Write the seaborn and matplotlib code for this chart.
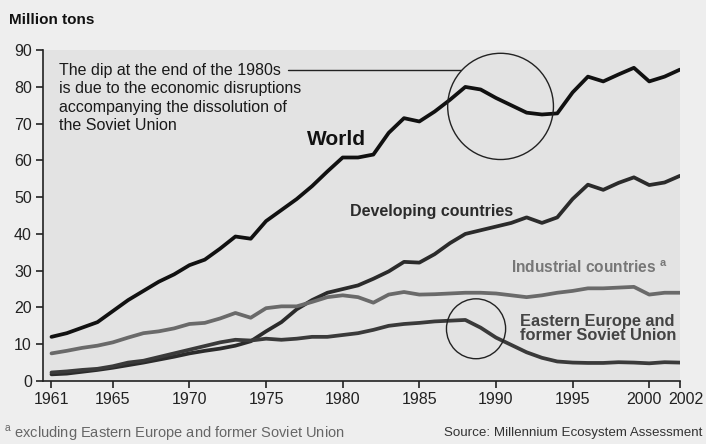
import matplotlib
matplotlib.use("Agg")
import matplotlib.pyplot as plt
from matplotlib.patches import Ellipse
from matplotlib.transforms import ScaledTranslation
import numpy as np
import pandas as pd
import seaborn as sns

years = list(range(1961, 2003))

world = [12.0, 13.0, 14.5, 16.0, 19.0, 22.0, 24.5, 27.0, 29.0, 31.5,
         33.0, 36.0, 39.3, 38.7, 43.5, 46.5, 49.5, 53.0, 57.0, 60.8,
         60.8, 61.6, 67.5, 71.5, 70.6, 73.3, 76.5, 80.0, 79.3, 77.0,
         75.0, 73.0, 72.5, 72.8, 78.5, 82.8, 81.5, 83.4, 85.2, 81.5,
         82.8, 84.7]

developing = [1.8, 2.0, 2.5, 3.0, 3.6, 4.3, 5.0, 5.8, 6.6, 7.5,
              8.2, 8.8, 9.6, 10.8, 13.5, 16.0, 19.5, 22.0, 24.0, 25.0,
              26.0, 27.8, 29.8, 32.4, 32.2, 34.5, 37.5, 40.0, 41.0, 42.0,
              43.0, 44.5, 43.0, 44.5, 49.5, 53.4, 52.0, 53.9, 55.4, 53.3,
              54.0, 55.8]

industrial = [7.5, 8.2, 9.0, 9.6, 10.5, 11.8, 13.0, 13.5, 14.3, 15.5,
              15.8, 17.0, 18.5, 17.2, 19.8, 20.3, 20.3, 21.5, 22.8, 23.3,
              22.8, 21.3, 23.5, 24.2, 23.5, 23.6, 23.8, 24.0, 24.0, 23.8,
              23.3, 22.8, 23.3, 24.0, 24.5, 25.2, 25.2, 25.4, 25.6, 23.5,
              24.0, 24.0]

eastern_europe = [2.3, 2.6, 3.0, 3.3, 4.0, 5.0, 5.5, 6.5, 7.5, 8.5,
                  9.5, 10.5, 11.2, 11.0, 11.5, 11.2, 11.5, 12.0, 12.0, 12.5,
                  13.0, 13.9, 15.0, 15.5, 15.8, 16.2, 16.4, 16.6, 14.5, 11.8,
                  9.8, 7.8, 6.3, 5.3, 5.0, 4.9, 4.9, 5.1, 5.0, 4.8,
                  5.1, 5.0]

series_names = ["World", "Developing countries", "Industrial countries",
                "Eastern Europe and former Soviet Union"]
x_ticks = [1961, 1965, 1970, 1975, 1980, 1985, 1990, 1995, 2000, 2002]
y_ticks = [0, 10, 20, 30, 40, 50, 60, 70, 80, 90]

df = pd.DataFrame({
    "year": years * 4,
    "value": world + developing + industrial + eastern_europe,
    "series": sum([[n] * len(years) for n in series_names], []),
})

sns.set_style("ticks")
plt.rcParams["font.family"] = ["Liberation Sans", "DejaVu Sans"]

fig = plt.figure(figsize=(7.06, 4.44), dpi=100, facecolor="#eeeeee")
ax = fig.add_axes([0.061, 0.142, 0.902, 0.745])
ax.set_facecolor("#e3e3e3")

palette = {
    "World": "#111111",
    "Developing countries": "#2b2b2b",
    "Industrial countries": "#6a6a6a",
    "Eastern Europe and former Soviet Union": "#3a3a3a",
}
sns.lineplot(data=df, x="year", y="value", hue="series", palette=palette,
             linewidth=2.7, legend=False, ax=ax, zorder=3)

ax.set_xlim(1960.45, 2002)
ax.set_ylim(0, 90)
ax.set_xticks(x_ticks)
ax.set_yticks(y_ticks)
ax.set_xlabel("")
ax.set_ylabel("")
ax.tick_params(axis="both", direction="out", length=5, width=1.2,
               colors="#222222", labelsize=11.5, pad=3)
for side in ("top", "right"):
    ax.spines[side].set_visible(False)
for side in ("left", "bottom"):
    ax.spines[side].set_color("#222222")
    ax.spines[side].set_linewidth(1.2)

# Nudge the two crowded year labels apart
xlabels = ax.get_xticklabels()
xlabels[-2].set_transform(xlabels[-2].get_transform()
                          + ScaledTranslation(-0.055, 0, fig.dpi_scale_trans))
xlabels[-1].set_transform(xlabels[-1].get_transform()
                          + ScaledTranslation(0.06, 0, fig.dpi_scale_trans))

# Circles highlighting the late-1980s dip
ax.add_patch(Ellipse((1990.3, 74.7), width=6.9, height=28.9, fill=False,
                     edgecolor="#222222", linewidth=1.0, zorder=4))
ax.add_patch(Ellipse((1988.7, 14.2), width=3.86, height=16.3, fill=False,
                     edgecolor="#222222", linewidth=1.0, zorder=4))

# Explanatory note with a leader line to the upper circle
ax.text(1961.5, 86.6,
        "The dip at the end of the 1980s\n"
        "is due to the economic disruptions\n"
        "accompanying the dissolution of\n"
        "the Soviet Union",
        ha="left", va="top", fontsize=11.5, color="#1a1a1a",
        linespacing=1.3)
ax.plot([1976.4, 1987.7], [84.7, 84.7], color="#222222", linewidth=1.0,
        zorder=4)

# Series labels
ax.text(1979.6, 65.7, "World", fontsize=15, fontweight="bold",
        ha="center", va="center", color="#111111")
ax.text(1980.5, 46.0, "Developing countries", fontsize=11.5,
        fontweight="bold", ha="left", va="center", color="#2b2b2b")
ax.text(1991.0, 30.8, "Industrial countries $^{\\mathregular{a}}$",
        fontsize=11.2, fontweight="bold", ha="left", va="center",
        color="#777777")
ax.text(1991.6, 14.3, "Eastern Europe and\nformer Soviet Union",
        fontsize=11.8, fontweight="bold", ha="left", va="center",
        color="#444444", linespacing=0.95)

# Titles and footnotes
fig.text(0.013, 0.955, "Million tons", fontsize=11, fontweight="bold",
         ha="left", va="center", color="#111111")
fig.text(0.006, 0.024, "$^{\\mathregular{a}}$ excluding Eastern Europe and former Soviet Union",
         fontsize=10.5, ha="left", va="center", color="#666666")
fig.text(0.995, 0.024, "Source: Millennium Ecosystem Assessment",
         fontsize=9.6, ha="right", va="center", color="#333333")

fig.savefig("out.png", dpi=100, facecolor=fig.get_facecolor())
